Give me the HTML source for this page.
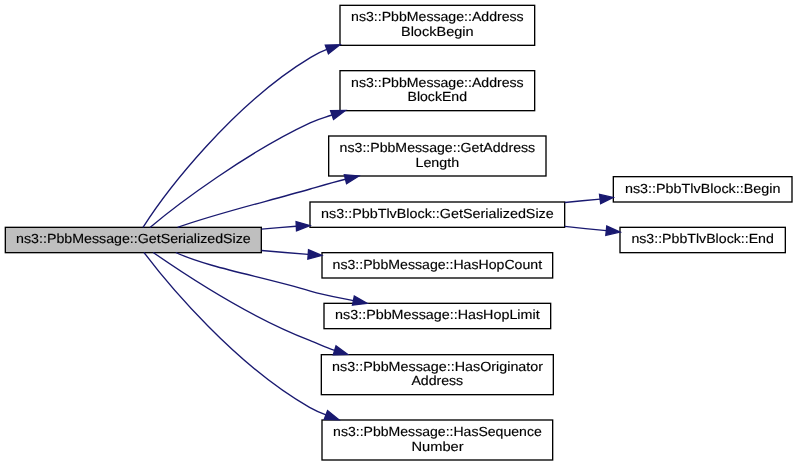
<!DOCTYPE html>
<html><head><meta charset="utf-8"><title>Call graph</title><style>html,body{margin:0;padding:0;background:#fff;overflow:hidden}svg{display:block;will-change:transform}text{font-family:"Liberation Sans",sans-serif;text-rendering:geometricPrecision}</style></head><body>
<svg width="797" height="465" viewBox="0 0 797 465">
<rect x="0" y="0" width="797" height="465" fill="#ffffff"/>
<rect x="5.33" y="227.33" width="256.00" height="25.33" fill="#bfbfbf" stroke="#000000" stroke-width="1.333"/>
<text x="133.43" y="243.00" text-anchor="middle" textLength="234.65" lengthAdjust="spacingAndGlyphs" font-size="13.2" fill="#000000" stroke="#000000" stroke-width="0.15">ns3::PbbMessage::GetSerializedSize</text>
<rect x="340.00" y="5.33" width="194.67" height="40.00" fill="#ffffff" stroke="#000000" stroke-width="1.333"/>
<text x="437.40" y="21.00" text-anchor="middle" textLength="172.59" lengthAdjust="spacingAndGlyphs" font-size="13.2" fill="#000000" stroke="#000000" stroke-width="0.15">ns3::PbbMessage::Address</text>
<text x="437.30" y="36.00" text-anchor="middle" textLength="72.69" lengthAdjust="spacingAndGlyphs" font-size="13.2" fill="#000000" stroke="#000000" stroke-width="0.15">BlockBegin</text>
<rect x="340.00" y="70.67" width="194.67" height="40.00" fill="#ffffff" stroke="#000000" stroke-width="1.333"/>
<text x="437.40" y="87.00" text-anchor="middle" textLength="172.59" lengthAdjust="spacingAndGlyphs" font-size="13.2" fill="#000000" stroke="#000000" stroke-width="0.15">ns3::PbbMessage::Address</text>
<text x="437.26" y="101.00" text-anchor="middle" textLength="59.55" lengthAdjust="spacingAndGlyphs" font-size="13.2" fill="#000000" stroke="#000000" stroke-width="0.15">BlockEnd</text>
<rect x="328.67" y="136.00" width="217.33" height="40.00" fill="#ffffff" stroke="#000000" stroke-width="1.333"/>
<text x="437.40" y="152.00" text-anchor="middle" textLength="195.59" lengthAdjust="spacingAndGlyphs" font-size="13.2" fill="#000000" stroke="#000000" stroke-width="0.15">ns3::PbbMessage::GetAddress</text>
<text x="437.30" y="167.00" text-anchor="middle" textLength="43.66" lengthAdjust="spacingAndGlyphs" font-size="13.2" fill="#000000" stroke="#000000" stroke-width="0.15">Length</text>
<rect x="310.00" y="202.00" width="254.67" height="25.33" fill="#ffffff" stroke="#000000" stroke-width="1.333"/>
<text x="437.43" y="218.00" text-anchor="middle" textLength="232.67" lengthAdjust="spacingAndGlyphs" font-size="13.2" fill="#000000" stroke="#000000" stroke-width="0.15">ns3::PbbTlvBlock::GetSerializedSize</text>
<rect x="322.00" y="252.67" width="230.67" height="25.33" fill="#ffffff" stroke="#000000" stroke-width="1.333"/>
<text x="437.36" y="269.00" text-anchor="middle" textLength="209.51" lengthAdjust="spacingAndGlyphs" font-size="13.2" fill="#000000" stroke="#000000" stroke-width="0.15">ns3::PbbMessage::HasHopCount</text>
<rect x="324.00" y="303.33" width="226.67" height="25.33" fill="#ffffff" stroke="#000000" stroke-width="1.333"/>
<text x="437.36" y="319.00" text-anchor="middle" textLength="204.53" lengthAdjust="spacingAndGlyphs" font-size="13.2" fill="#000000" stroke="#000000" stroke-width="0.15">ns3::PbbMessage::HasHopLimit</text>
<rect x="321.33" y="354.67" width="232.00" height="40.00" fill="#ffffff" stroke="#000000" stroke-width="1.333"/>
<text x="437.58" y="371.00" text-anchor="middle" textLength="210.98" lengthAdjust="spacingAndGlyphs" font-size="13.2" fill="#000000" stroke="#000000" stroke-width="0.15">ns3::PbbMessage::HasOriginator</text>
<text x="437.30" y="385.00" text-anchor="middle" textLength="51.78" lengthAdjust="spacingAndGlyphs" font-size="13.2" fill="#000000" stroke="#000000" stroke-width="0.15">Address</text>
<rect x="322.00" y="420.00" width="230.67" height="40.00" fill="#ffffff" stroke="#000000" stroke-width="1.333"/>
<text x="437.43" y="436.00" text-anchor="middle" textLength="208.64" lengthAdjust="spacingAndGlyphs" font-size="13.2" fill="#000000" stroke="#000000" stroke-width="0.15">ns3::PbbMessage::HasSequence</text>
<text x="437.51" y="451.00" text-anchor="middle" textLength="52.14" lengthAdjust="spacingAndGlyphs" font-size="13.2" fill="#000000" stroke="#000000" stroke-width="0.15">Number</text>
<rect x="613.33" y="176.67" width="178.67" height="25.33" fill="#ffffff" stroke="#000000" stroke-width="1.333"/>
<text x="702.70" y="193.00" text-anchor="middle" textLength="155.54" lengthAdjust="spacingAndGlyphs" font-size="13.2" fill="#000000" stroke="#000000" stroke-width="0.15">ns3::PbbTlvBlock::Begin</text>
<rect x="620.00" y="227.33" width="165.33" height="25.33" fill="#ffffff" stroke="#000000" stroke-width="1.333"/>
<text x="702.65" y="243.00" text-anchor="middle" textLength="142.43" lengthAdjust="spacingAndGlyphs" font-size="13.2" fill="#000000" stroke="#000000" stroke-width="0.15">ns3::PbbTlvBlock::End</text>
<path d="M143.00,227.40C165.19,192.45 232.20,104.60 310.71,57.33 315.96,54.17 320.98,51.60 326.90,49.45" fill="none" stroke="#191970" stroke-width="1.333"/>
<polygon points="328.49,53.84 340.00,44.70 325.31,45.06" fill="#191970" stroke="#191970" stroke-width="1.333"/>
<path d="M150.00,227.40C177.88,203.99 247.66,151.88 310.10,122.86 320.66,117.96 322.50,118.22 332.05,115.00" fill="none" stroke="#191970" stroke-width="1.333"/>
<polygon points="333.54,119.43 345.40,110.50 330.56,110.57" fill="#191970" stroke="#191970" stroke-width="1.333"/>
<path d="M177.60,227.40C217.36,213.24 262.73,202.61 310.20,188.99 318.94,186.48 332.83,182.34 345.45,179.25" fill="none" stroke="#191970" stroke-width="1.333"/>
<polygon points="346.56,183.79 358.90,175.96 344.34,174.71" fill="#191970" stroke="#191970" stroke-width="1.333"/>
<path d="M261.60,229.10C273.17,228.15 284.73,227.20 296.30,226.25" fill="none" stroke="#191970" stroke-width="1.333"/>
<polygon points="296.52,230.91 309.90,225.60 296.08,221.59" fill="#191970" stroke="#191970" stroke-width="1.333"/>
<path d="M261.60,250.50C277.13,251.82 292.67,253.13 308.20,254.45" fill="none" stroke="#191970" stroke-width="1.333"/>
<polygon points="307.87,259.11 321.80,255.40 308.53,249.79" fill="#191970" stroke="#191970" stroke-width="1.333"/>
<path d="M175.80,252.50C209.17,267.89 263.17,276.71 310.38,291.06 323.92,295.17 340.08,297.88 353.40,300.55" fill="none" stroke="#191970" stroke-width="1.333"/>
<polygon points="352.48,305.13 367.10,303.30 354.32,295.97" fill="#191970" stroke="#191970" stroke-width="1.333"/>
<path d="M153.20,252.50C183.71,273.62 249.37,317.14 309.75,340.38 317.58,343.40 325.85,347.62 334.65,350.35" fill="none" stroke="#191970" stroke-width="1.333"/>
<polygon points="333.27,354.81 347.70,354.40 336.03,345.89" fill="#191970" stroke="#191970" stroke-width="1.333"/>
<path d="M144.00,252.50C167.83,284.17 236.19,365.81 309.51,407.30 313.45,409.53 319.21,412.32 325.95,414.85" fill="none" stroke="#191970" stroke-width="1.333"/>
<polygon points="324.31,419.22 338.90,419.70 327.59,410.48" fill="#191970" stroke="#191970" stroke-width="1.333"/>
<path d="M564.70,202.50C576.50,201.35 588.30,200.20 600.10,199.05" fill="none" stroke="#191970" stroke-width="1.333"/>
<polygon points="600.68,203.68 613.20,197.40 599.52,194.42" fill="#191970" stroke="#191970" stroke-width="1.333"/>
<path d="M564.70,226.40C578.57,227.83 592.43,229.27 606.30,230.70" fill="none" stroke="#191970" stroke-width="1.333"/>
<polygon points="605.83,235.35 620.10,232.10 606.77,226.05" fill="#191970" stroke="#191970" stroke-width="1.333"/>
</svg></body></html>
